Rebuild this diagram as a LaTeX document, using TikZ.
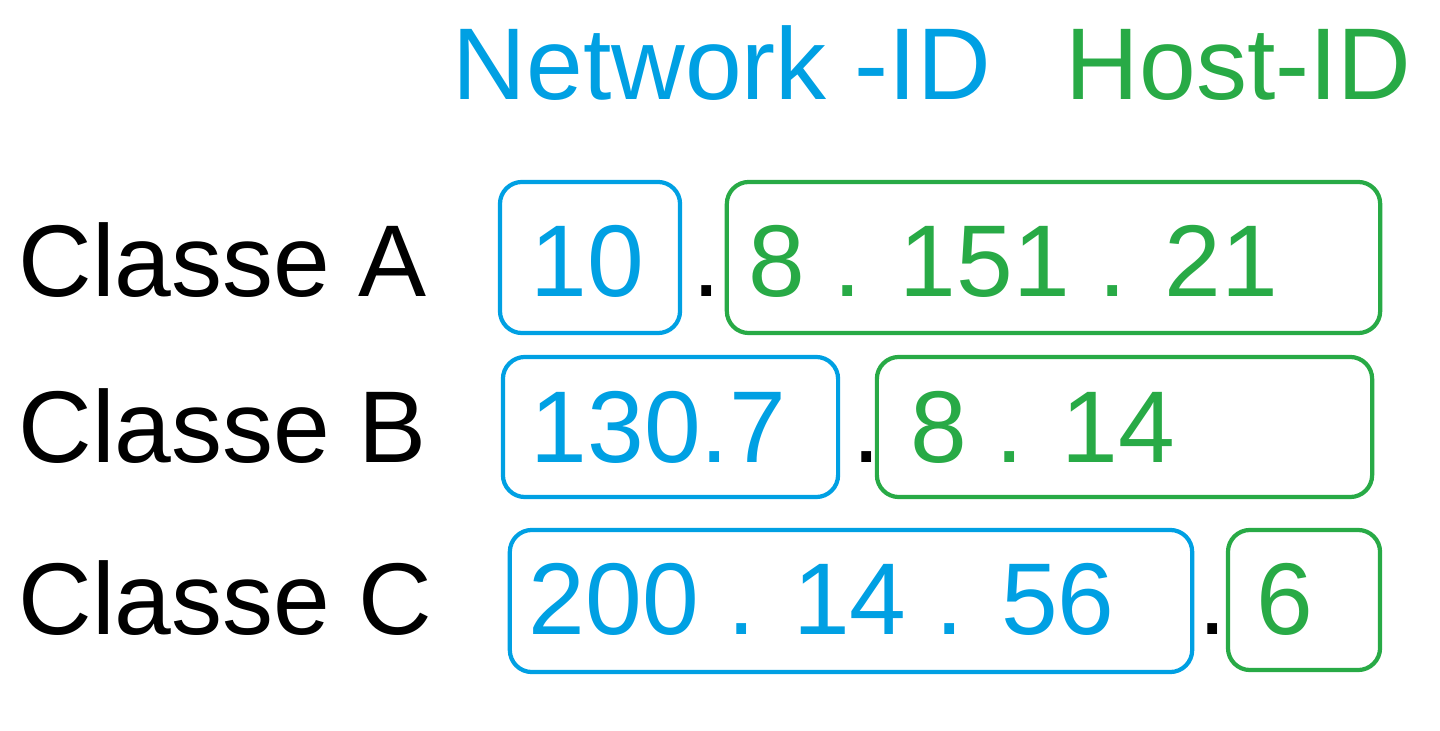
\documentclass[tikz,border=0pt]{standalone}
\usepackage{fontspec}
\setmainfont{Liberation Sans}
\definecolor{nblue}{RGB}{0,160,227}
\definecolor{hgreen}{RGB}{40,170,70}
\begin{document}
\begin{tikzpicture}[x=0.01cm,y=-0.01cm,
  box/.style={draw,line width=1.2pt,rounded corners=0.22cm,inner sep=0pt},
  txt/.style={font=\fontsize{29}{34}\selectfont,inner sep=0pt,anchor=base west}]
\useasboundingbox (0,0) rectangle (1440,731);
\node[txt,nblue] (nid) at (452,100) {Network -ID};
\node[txt,hgreen] (hid) at (1065,100) {Host-ID};
% row A
\node[txt] (ca) at (18,297) {Classe A};
\node[box,nblue,minimum width=1.8cm,minimum height=1.51cm] (ba1) at (590,257.5) {};
\node[box,hgreen,minimum width=6.53cm,minimum height=1.51cm] (ba2) at (1053.5,257.5) {};
\node[txt,nblue] (ta1) at (530,297) {10};
\node[txt] (da) at (692,297) {.};
\node[txt,hgreen] (ta2) at (748,297) {8 . 151 . 21};
% row B
\node[txt] (cb) at (18,463) {Classe B};
\node[box,nblue,minimum width=3.35cm,minimum height=1.4cm] (bb1) at (670.5,427) {};
\node[box,hgreen,minimum width=4.95cm,minimum height=1.4cm] (bb2) at (1124.5,427) {};
\node[txt,nblue] (tb1) at (530,463) {130.7};
\node[txt] (db) at (852,463) {.};
\node[txt,hgreen] (tb2) at (910,463) {8 . 14};
% row C
\node[txt] (cc) at (18,634) {Classe C};
\node[box,nblue,minimum width=6.82cm,minimum height=1.42cm] (bc1) at (851,601) {};
\node[box,hgreen,minimum width=1.52cm,minimum height=1.4cm] (bc2) at (1304,600) {};
\node[txt,nblue] (tc1) at (528,634) {200 . 14 . 56};
\node[txt] (dc) at (1198,634) {.};
\node[txt,hgreen] (tc2) at (1256,634) {6};
\end{tikzpicture}
\end{document}
